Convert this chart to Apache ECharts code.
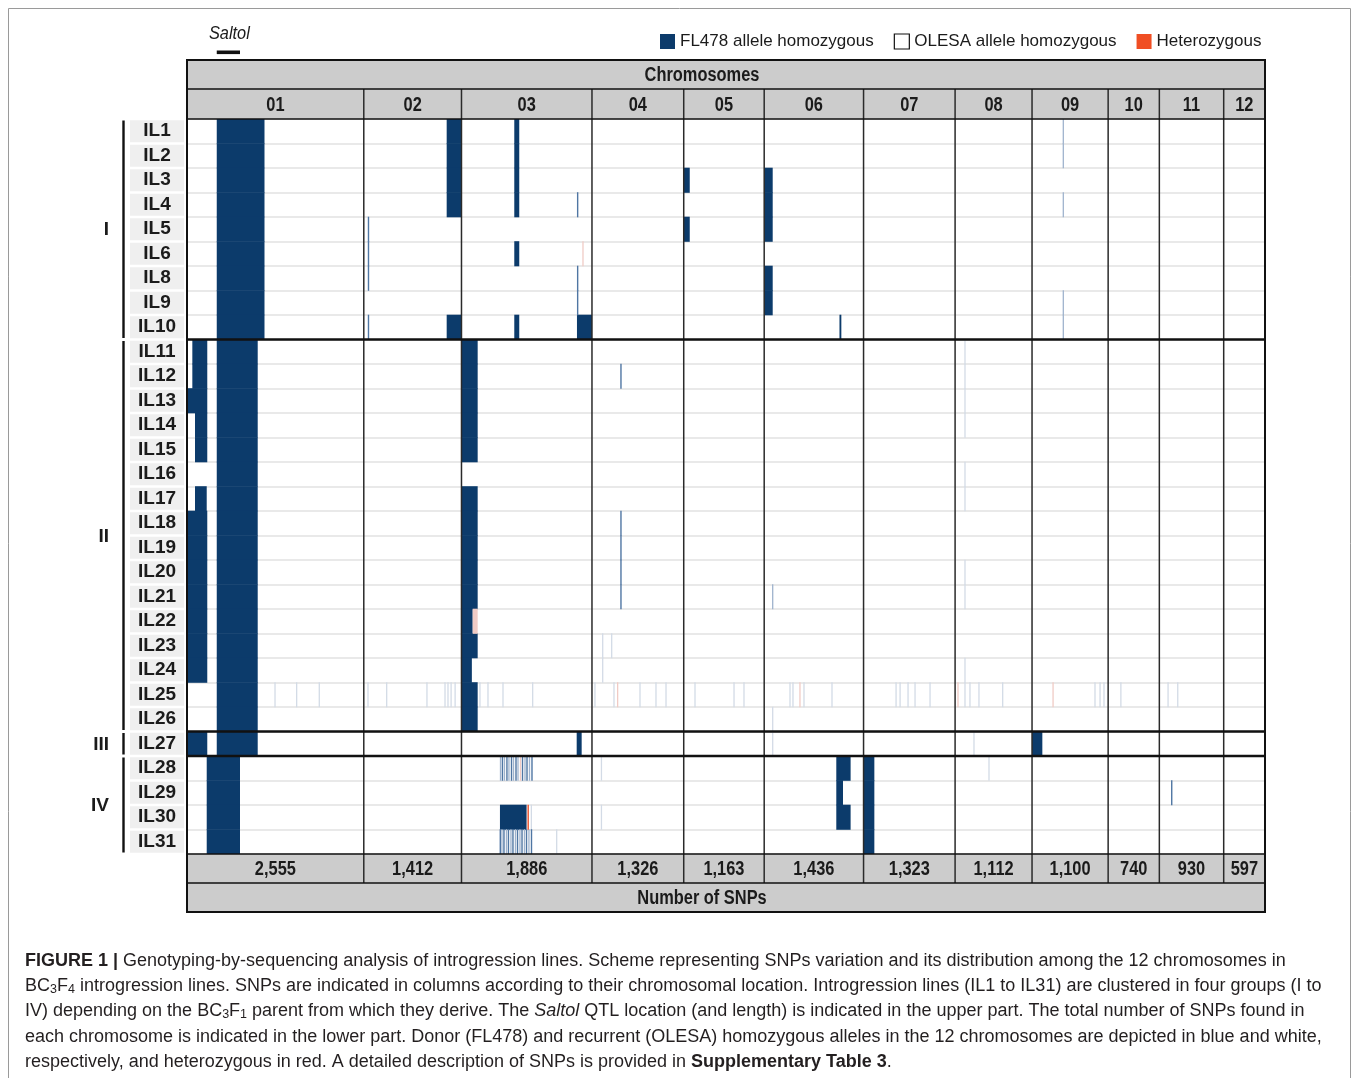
<!DOCTYPE html>
<html>
<head>
<meta charset="utf-8">
<script src="https://cdn.jsdelivr.net/npm/echarts@6/dist/echarts.min.js"></script>
<style>
  html, body { margin: 0; padding: 0; background: #ffffff; }
  #chart { width: 1358px; height: 1078px; }
</style>
</head>
<body>
<div id="chart"></div>
<script>
// ---- Data -----------------------------------------------------------------
const chromosomes = ['01', '02', '03', '04', '05', '06', '07', '08', '09', '10', '11', '12'];
const snpCounts = [2555, 1412, 1886, 1326, 1163, 1436, 1323, 1112, 1100, 740, 930, 597];

const lineNames = ['IL1', 'IL2', 'IL3', 'IL4', 'IL5', 'IL6', 'IL8', 'IL9', 'IL10',
  'IL11', 'IL12', 'IL13', 'IL14', 'IL15', 'IL16', 'IL17', 'IL18', 'IL19', 'IL20',
  'IL21', 'IL22', 'IL23', 'IL24', 'IL25', 'IL26', 'IL27', 'IL28', 'IL29', 'IL30', 'IL31'];

// group name, first line, last line
const groups = [['I', 'IL1', 'IL10'], ['II', 'IL11', 'IL26'], ['III', 'IL27', 'IL27'], ['IV', 'IL28', 'IL31']];

// Saltol QTL: chromosome, first SNP, last SNP
const saltol = ['01', 430, 766];

// Genotype segments: first line, last line, chromosome, start SNP, end SNP, call
// F = FL478 homozygous, H = heterozygous
const segments = [
  ['IL1', 'IL10', '01', 430, 1120, 'F'],
  ['IL11', 'IL27', '01', 430, 1022, 'F'],
  ['IL28', 'IL31', '01', 285, 766, 'F'],
  ['IL11', 'IL12', '01', 77, 293, 'F'],
  ['IL13', 'IL13', '01', 0, 293, 'F'],
  ['IL14', 'IL15', '01', 116, 293, 'F'],
  ['IL17', 'IL17', '01', 116, 285, 'F'],
  ['IL18', 'IL24', '01', 0, 293, 'F'],
  ['IL27', 'IL27', '01', 0, 293, 'F'],
  ['IL1', 'IL4', '02', 1198, 1412, 'F'],
  ['IL10', 'IL10', '02', 1198, 1412, 'F'],
  ['IL1', 'IL4', '03', 763, 835, 'F'],
  ['IL6', 'IL6', '03', 763, 835, 'F'],
  ['IL10', 'IL10', '03', 763, 835, 'F'],
  ['IL10', 'IL10', '03', 1669, 1886, 'F'],
  ['IL11', 'IL15', '03', 0, 234, 'F'],
  ['IL17', 'IL21', '03', 0, 234, 'F'],
  ['IL22', 'IL22', '03', 0, 162, 'F'],
  ['IL22', 'IL22', '03', 162, 234, 'h'],
  ['IL23', 'IL23', '03', 0, 234, 'F'],
  ['IL24', 'IL24', '03', 0, 150, 'F'],
  ['IL25', 'IL26', '03', 0, 234, 'F'],
  ['IL27', 'IL27', '03', 1665, 1737, 'F'],
  ['IL30', 'IL30', '03', 556, 941, 'F'],
  ['IL3', 'IL3', '05', 0, 87, 'F'],
  ['IL5', 'IL5', '05', 0, 87, 'F'],
  ['IL3', 'IL5', '06', 0, 123, 'F'],
  ['IL8', 'IL9', '06', 0, 123, 'F'],
  ['IL10', 'IL10', '06', 1088, 1115, 'F'],
  ['IL28', 'IL28', '06', 1042, 1249, 'F'],
  ['IL29', 'IL29', '06', 1042, 1139, 'F'],
  ['IL30', 'IL30', '06', 1042, 1249, 'F'],
  ['IL28', 'IL31', '07', 0, 156, 'F'],
  ['IL27', 'IL27', '09', 0, 149, 'F']
];

// Isolated SNP calls: first line, last line, chromosome, SNP, call
// (f/m/p = FL478 homozygous at decreasing read support, h = weak heterozygous)
const snpMarks = [
  ['IL5', 'IL8', '02', 68, 'f'],
  ['IL10', 'IL10', '02', 68, 'f'],
  ['IL4', 'IL4', '03', 1679, 'f'],
  ['IL8', 'IL9', '03', 1679, 'f'],
  ['IL6', 'IL6', '03', 1756, 'h'],
  ['IL30', 'IL30', '03', 964, 'H'],
  ['IL30', 'IL30', '03', 1010, 'p'],
  ['IL31', 'IL31', '03', 1376, 'p'],
  ['IL12', 'IL12', '04', 419, 'f'],
  ['IL18', 'IL21', '04', 419, 'f'],
  ['IL23', 'IL23', '04', 155, 'p'],
  ['IL23', 'IL23', '04', 285, 'p'],
  ['IL24', 'IL24', '04', 155, 'p'],
  ['IL28', 'IL28', '04', 137, 'p'],
  ['IL30', 'IL30', '04', 137, 'p'],
  ['IL21', 'IL21', '06', 123, 'm'],
  ['IL26', 'IL27', '06', 123, 'p'],
  ['IL11', 'IL14', '08', 143, 'p'],
  ['IL16', 'IL17', '08', 143, 'p'],
  ['IL20', 'IL21', '08', 143, 'p'],
  ['IL24', 'IL24', '08', 143, 'p'],
  ['IL27', 'IL27', '08', 273, 'p'],
  ['IL28', 'IL28', '08', 490, 'p'],
  ['IL1', 'IL2', '09', 452, 'm'],
  ['IL4', 'IL4', '09', 452, 'm'],
  ['IL9', 'IL10', '09', 452, 'm'],
  ['IL29', 'IL29', '11', 179, 'f']
];

// Scattered calls of IL25: chromosome, SNP, call
const il25Marks = [
  ['01', 1272, 'p'], ['01', 1585, 'p'], ['01', 1912, 'p'],
  ['02', 61, 'p'], ['02', 331, 'p'], ['02', 913, 'p'], ['02', 1174, 'p'], ['02', 1217, 'p'], ['02', 1262, 'p'], ['02', 1320, 'p'],
  ['03', 267, 'p'], ['03', 383, 'p'], ['03', 600, 'p'], ['03', 1029, 'p'],
  ['04', 43, 'p'], ['04', 318, 'p'], ['04', 371, 'h'], ['04', 694, 'p'], ['04', 925, 'p'], ['04', 1070, 'p'],
  ['05', 163, 'p'], ['05', 727, 'p'], ['05', 871, 'p'],
  ['06', 373, 'p'], ['06', 416, 'p'], ['06', 517, 'h'], ['06', 575, 'p'], ['06', 980, 'p'],
  ['07', 470, 'p'], ['07', 528, 'p'], ['07', 643, 'p'], ['07', 744, 'p'], ['07', 961, 'p'],
  ['08', 42, 'h'], ['08', 143, 'p'], ['08', 215, 'p'], ['08', 345, 'p'], ['08', 688, 'p'],
  ['09', 304, 'h'], ['09', 910, 'p'], ['09', 983, 'p'], ['09', 1040, 'p'],
  ['10', 184, 'p'],
  ['11', 126, 'p'], ['11', 266, 'p']
];

// Dense chromosome-03 calls of IL28 and IL31: chromosome, SNP, call
const il28Marks = [
  ['03', 564, 'm'], ['03', 592, 'f'], ['03', 621, 'm'], ['03', 657, 'f'], ['03', 686, 'm'],
  ['03', 723, 'f'], ['03', 752, 'm'], ['03', 788, 'f'], ['03', 817, 'm'], ['03', 853, 'h'],
  ['03', 882, 'f'], ['03', 918, 'm'], ['03', 947, 'f'], ['03', 983, 'm'], ['03', 1019, 'f']
];
const il31Marks = [
  ['03', 561, 'f'], ['03', 585, 'm'], ['03', 614, 'f'], ['03', 650, 'm'], ['03', 679, 'f'],
  ['03', 715, 'm'], ['03', 744, 'f'], ['03', 780, 'm'], ['03', 810, 'f'], ['03', 845, 'm'],
  ['03', 875, 'f'], ['03', 910, 'm'], ['03', 940, 'f'], ['03', 975, 'm'], ['03', 1012, 'f']
];

// ---- Styles ---------------------------------------------------------------
const SANS = '"Liberation Sans", Arial, Helvetica, sans-serif';
const NARROW_SCALE = 0.82;   // condensed look for header / footer lettering
const INK = '#1b1b1b';
const CALL_COLORS = { F: '#0c3b6b', f: '#4f76a3', m: '#9fb3cd', p: '#d3dbe6', H: '#ea4f2b', h: '#f0cbc5' };
const MARK_WIDTH = { F: 1.6, f: 1.4, m: 1.3, p: 1.3, H: 1.4, h: 1.3 };
const GRID = { left: 187, top: 119, width: 1078, height: 735 };
const HEAD_H = 30, FOOT_H = 29, BAND_H = 29;

// ---- Derived tables -------------------------------------------------------
const TOTAL = snpCounts.reduce((a, b) => a + b, 0);
const chrStart = [];
snpCounts.reduce((acc, n) => { chrStart.push(acc); return acc + n; }, 0);
const rowOf = name => lineNames.indexOf(name);
const globalPos = (chr, snp) => chrStart[chromosomes.indexOf(chr)] + snp;
const fmt = n => String(n).replace(/\B(?=(\d{3})+(?!\d))/g, ',');

const calls = [];
function addRows(first, last, item) {
  for (let r = rowOf(first); r <= rowOf(last); r++) calls.push(Object.assign({ row: r }, item));
}
segments.forEach(([a, b, chr, s, e, k]) => addRows(a, b, { s: globalPos(chr, s), e: globalPos(chr, e), kind: k }));
snpMarks.forEach(([a, b, chr, p, k]) => addRows(a, b, { s: globalPos(chr, p), e: globalPos(chr, p), kind: k, mark: true }));
[['IL25', il25Marks], ['IL28', il28Marks], ['IL31', il31Marks]].forEach(([line, list]) =>
  list.forEach(([chr, p, k]) => addRows(line, line, { s: globalPos(chr, p), e: globalPos(chr, p), kind: k, mark: true })));

const fl478Calls = calls.filter(c => 'Ffmp'.includes(c.kind));
const hetCalls = calls.filter(c => 'Hh'.includes(c.kind));

function callRenderer(list) {
  return function (params, api) {
    const c = list[params.dataIndex];
    const p0 = api.coord([c.s, c.row]);
    const p1 = api.coord([c.e, c.row]);
    const h = api.size([0, 1])[1];
    let x = p0[0], w = p1[0] - p0[0];
    if (c.mark) { w = MARK_WIDTH[c.kind]; x = p0[0] - w / 2; }
    return {
      type: 'rect',
      shape: { x: x, y: p0[1] - h / 2 - 0.3, width: w, height: h + 0.6 },
      style: { fill: CALL_COLORS[c.kind] }
    };
  };
}

function rowEdges(api, first, last) {
  const h = api.size([0, 1])[1];
  return [api.coord([0, first])[1] - h / 2, api.coord([0, last])[1] + h / 2];
}

// condensed bold label centred on (x, y)
function narrowText(text, x, y, extra) {
  return Object.assign({
    type: 'text', x: x, y: y, scaleX: NARROW_SCALE,
    style: { text: text, x: 0, y: 0, align: 'center', verticalAlign: 'middle', fontFamily: SANS, fontSize: 20, fontWeight: 'bold', fill: INK }
  }, extra || {});
}

// ---- Chart ----------------------------------------------------------------
const chart = echarts.init(document.getElementById('chart'), null, { renderer: 'canvas' });

const CAP_SIZE = 18;
const captionRich = {
  b: { fontFamily: SANS, fontSize: CAP_SIZE, fontWeight: 'bold', fill: '#231f20' },
  i: { fontFamily: SANS, fontSize: CAP_SIZE, fontStyle: 'italic', fill: '#231f20' },
  sub: { fontFamily: SANS, fontSize: 12.5, fill: '#231f20', padding: [6, 0, 0, 0] }
};
const captionLines = [
  '{b|FIGURE 1 |} Genotyping-by-sequencing analysis of introgression lines. Scheme representing SNPs variation and its distribution among the 12 chromosomes in',
  'BC{sub|3}F{sub|4} introgression lines. SNPs are indicated in columns according to their chromosomal location. Introgression lines (IL1 to IL31) are clustered in four groups (I to',
  'IV) depending on the BC{sub|3}F{sub|1} parent from which they derive. The {i|Saltol} QTL location (and length) is indicated in the upper part. The total number of SNPs found in',
  'each chromosome is indicated in the lower part. Donor (FL478) and recurrent (OLESA) homozygous alleles in the 12 chromosomes are depicted in blue and white,',
  'respectively, and heterozygous in red. A detailed description of SNPs is provided in {b|Supplementary Table 3}.'
];

const gRight = GRID.left + GRID.width;
const gBottom = GRID.top + GRID.height;
const hLine = (y, w) => ({
  type: 'line', z: 100,
  shape: { x1: GRID.left, y1: y, x2: gRight, y2: y },
  style: { stroke: '#111', lineWidth: w }
});

const graphics = [
  { type: 'rect', z: 0, shape: { x: 8.5, y: 8.5, width: 1342, height: 1100 }, style: { fill: null, stroke: '#9a9a9a', lineWidth: 1 } },
  { type: 'rect', z: 0, shape: { x: GRID.left, y: GRID.top - HEAD_H - BAND_H, width: GRID.width, height: BAND_H }, style: { fill: '#cccccc' } },
  { type: 'rect', z: 0, shape: { x: GRID.left, y: gBottom + FOOT_H, width: GRID.width, height: BAND_H }, style: { fill: '#cccccc' } },
  narrowText('Chromosomes', 702, GRID.top - HEAD_H - BAND_H / 2 + 1, { z: 101 }),
  narrowText('Number of SNPs', 702, gBottom + FOOT_H + BAND_H / 2 + 1, { z: 101 }),
  hLine(GRID.top - HEAD_H, 1.5),
  hLine(GRID.top, 1.5),
  hLine(gBottom, 1.5),
  hLine(gBottom + FOOT_H, 1.5),
  { type: 'rect', z: 100, shape: { x: GRID.left, y: GRID.top - HEAD_H - BAND_H, width: GRID.width, height: GRID.height + HEAD_H + FOOT_H + 2 * BAND_H }, style: { fill: null, stroke: '#111', lineWidth: 2 } }
];
captionLines.forEach((t, i) => graphics.push({
  type: 'text', z: 101,
  style: { text: t, x: 25, y: 961 + i * 25.2, verticalAlign: 'middle', fontFamily: SANS, fontSize: CAP_SIZE, fill: '#231f20', rich: captionRich }
}));

const option = {
  animation: false,
  backgroundColor: '#ffffff',
  grid: { left: GRID.left, top: GRID.top, width: GRID.width, height: GRID.height },
  legend: {
    left: 660, top: 33, padding: 0,
    itemWidth: 15, itemHeight: 15, itemGap: 20,
    icon: 'rect',
    selectedMode: false,
    textStyle: { fontFamily: SANS, fontSize: 17, color: INK },
    data: [
      { name: 'FL478 allele homozygous', itemStyle: { color: CALL_COLORS.F } },
      { name: 'OLESA allele homozygous', itemStyle: { color: '#ffffff', borderColor: '#111', borderWidth: 1.2 } },
      { name: 'Heterozygous', itemStyle: { color: '#f04e23' } }
    ]
  },
  xAxis: {
    type: 'value', min: 0, max: TOTAL,
    axisLine: { show: false }, axisTick: { show: false }, axisLabel: { show: false }, splitLine: { show: false }
  },
  yAxis: {
    type: 'category', data: lineNames, inverse: true,
    axisLine: { show: false }, axisTick: { show: false },
    splitLine: { show: true, lineStyle: { color: '#e2e2e2', width: 1.5 } },
    axisLabel: {
      interval: 0, margin: 3,
      formatter: v => '{c|' + v + '}',
      rich: {
        c: { width: 54, height: 22, lineHeight: 22, align: 'center', backgroundColor: '#efefef',
             fontFamily: SANS, fontSize: 19, fontWeight: 'bold', color: INK }
      }
    }
  },
  graphic: { elements: graphics },
  series: [
    {
      name: 'FL478 allele homozygous', type: 'custom', z: 2,
      itemStyle: { color: CALL_COLORS.F },
      renderItem: callRenderer(fl478Calls),
      data: fl478Calls.map(c => [c.s, c.e, c.row])
    },
    {
      name: 'OLESA allele homozygous', type: 'custom', z: 2,
      itemStyle: { color: '#ffffff', borderColor: '#111', borderWidth: 1.2 },
      renderItem: () => null,
      data: []
    },
    {
      name: 'Heterozygous', type: 'custom', z: 3,
      itemStyle: { color: '#f04e23' },
      renderItem: callRenderer(hetCalls),
      data: hetCalls.map(c => [c.s, c.e, c.row])
    },
    {
      // chromosome header / footer cells and separators
      name: 'chromosomes', type: 'custom', z: 10, silent: true,
      data: chromosomes.map((c, i) => [chrStart[i], chrStart[i] + snpCounts[i], 0]),
      renderItem: function (params, api) {
        const i = params.dataIndex;
        const x0 = api.coord([api.value(0), 0])[0];
        const x1 = api.coord([api.value(1), 0])[0];
        const [top, bottom] = rowEdges(api, 0, lineNames.length - 1);
        const kids = [
          { type: 'rect', shape: { x: x0, y: top - HEAD_H, width: x1 - x0, height: HEAD_H }, style: { fill: '#cccccc' } },
          { type: 'rect', shape: { x: x0, y: bottom, width: x1 - x0, height: FOOT_H }, style: { fill: '#cccccc' } },
          narrowText(chromosomes[i], (x0 + x1) / 2, top - HEAD_H / 2 + 1),
          narrowText(fmt(snpCounts[i]), (x0 + x1) / 2, bottom + FOOT_H / 2 + 1)
        ];
        if (i > 0) {
          kids.push({ type: 'line', shape: { x1: x0, y1: top - HEAD_H, x2: x0, y2: bottom + FOOT_H }, style: { stroke: '#2a2a2a', lineWidth: 1.5 } });
        }
        return { type: 'group', children: kids };
      }
    },
    {
      // line groups: labels, brackets and separators
      name: 'groups', type: 'custom', z: 11, silent: true,
      data: groups.map(g => [0, TOTAL, rowOf(g[1]), rowOf(g[2])]),
      renderItem: function (params, api) {
        const g = groups[params.dataIndex];
        const [yTop, yBot] = rowEdges(api, api.value(2), api.value(3));
        const xL = api.coord([api.value(0), 0])[0];
        const xR = api.coord([api.value(1), 0])[0];
        const kids = [
          { type: 'text', style: { text: g[0], x: 109, y: (yTop + yBot) / 2 + 1, align: 'right', verticalAlign: 'middle', fontFamily: SANS, fontSize: 19, fontWeight: 'bold', fill: INK } },
          { type: 'rect', shape: { x: 122.3, y: yTop + 1.5, width: 2.4, height: yBot - yTop - 3 }, style: { fill: '#111' } }
        ];
        if (params.dataIndex < groups.length - 1) {
          kids.push({ type: 'line', shape: { x1: xL, y1: yBot, x2: xR, y2: yBot }, style: { stroke: '#111', lineWidth: 2.6 } });
        }
        return { type: 'group', children: kids };
      }
    },
    {
      // Saltol QTL marker above the header
      name: 'Saltol', type: 'custom', z: 12, silent: true,
      data: [[globalPos(saltol[0], saltol[1]), globalPos(saltol[0], saltol[2]), 0]],
      renderItem: function (params, api) {
        const x0 = api.coord([api.value(0), 0])[0];
        const x1 = api.coord([api.value(1), 0])[0];
        const [top] = rowEdges(api, 0, 0);
        return {
          type: 'group', children: [
            { type: 'rect', shape: { x: x0, y: top - 68.5, width: x1 - x0, height: 3.6 }, style: { fill: '#111' } },
            {
              type: 'text', x: (x0 + x1) / 2 + 1, y: top - 85, scaleX: 0.86,
              style: { text: 'Saltol', x: 0, y: 0, align: 'center', verticalAlign: 'middle', fontFamily: SANS, fontSize: 19, fontStyle: 'italic', fill: INK }
            }
          ]
        };
      }
    }
  ]
};

chart.setOption(option);
</script>
</body>
</html>
